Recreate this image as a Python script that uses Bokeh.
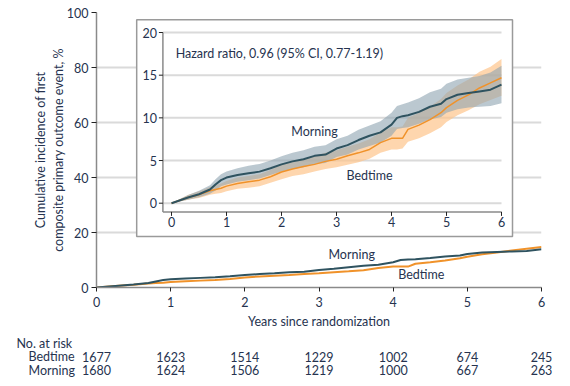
from bokeh.plotting import figure
from bokeh.models import Range1d, FixedTicker, ColumnDataSource
from bokeh.layouts import column, row
from bokeh.embed import file_html
from bokeh.resources import INLINE
from bokeh.core.properties import value

FONT = "Lato"
TXT = "#26334f"
MORN_C = "#2f5360"
BED_C = "#f0922a"
MORN_BAND = "#8da3b0"
BED_BAND = "#fdc58c"

# ---------------- data ----------------
years = [0, 0.3, 0.5, 0.7, 0.8, 0.9, 1.0, 1.2, 1.4, 1.6, 1.8, 2.0, 2.2, 2.4, 2.6,
         2.8, 3.0, 3.2, 3.4, 3.6, 3.8, 4.0, 4.1, 4.2, 4.3, 4.5, 4.7, 4.9, 5.0,
         5.2, 5.4, 5.6, 5.8, 6.0]
morning = [0, 0.66, 1.05, 1.6, 2.2, 2.7, 3.0, 3.3, 3.5, 3.7, 4.1, 4.55, 4.9, 5.15,
           5.55, 5.7, 6.4, 6.8, 7.4, 7.9, 8.3, 9.2, 10.0, 10.2, 10.3, 10.7, 11.3,
           11.65, 12.2, 12.7, 12.9, 13.1, 13.3, 13.9]
morning_lo = [0, 0.4, 0.7, 1.1, 1.5, 2.0, 2.2, 2.5, 2.7, 2.9, 3.3, 3.7, 4.0, 4.2,
              4.6, 4.7, 5.4, 5.7, 6.3, 6.7, 7.1, 7.9, 8.7, 8.8, 8.9, 9.3, 9.8,
              10.1, 10.6, 11.0, 11.2, 11.3, 11.4, 11.7]
morning_hi = [0, 0.95, 1.45, 2.1, 2.8, 3.4, 3.7, 4.1, 4.4, 4.6, 5.0, 5.5, 5.9, 6.2,
              6.6, 6.8, 7.5, 7.9, 8.6, 9.1, 9.6, 10.6, 11.4, 11.6, 11.8, 12.3, 13.0,
              13.4, 14.0, 14.5, 14.7, 14.9, 15.3, 16.1]
bedtime = [0, 0.66, 1.0, 1.45, 1.6, 1.75, 2.0, 2.3, 2.5, 2.7, 3.1, 3.65, 4.0, 4.3,
           4.55, 4.9, 5.15, 5.55, 5.9, 6.3, 7.1, 7.6, 7.6, 7.6, 8.65, 9.15, 9.8,
           10.6, 11.2, 12.05, 12.7, 13.5, 14.1, 14.7]
bedtime_lo = [0, 0.4, 0.6, 1.0, 1.1, 1.2, 1.4, 1.7, 1.8, 2.0, 2.4, 2.8, 3.2, 3.4,
              3.7, 4.0, 4.2, 4.5, 4.8, 5.2, 5.9, 6.3, 6.3, 6.4, 7.2, 7.6, 8.2,
              8.9, 9.5, 10.3, 10.9, 11.6, 12.1, 12.6]
bedtime_hi = [0, 0.95, 1.4, 1.9, 2.1, 2.3, 2.6, 3.0, 3.2, 3.4, 3.9, 4.5, 4.9, 5.2,
              5.5, 5.9, 6.2, 6.6, 7.0, 7.5, 8.3, 8.9, 8.9, 9.0, 10.0, 10.6, 11.3,
              12.2, 12.9, 13.8, 14.5, 15.4, 16.0, 16.9]

main_yticks = [0, 20, 40, 60, 80, 100]
xticks = [0, 1, 2, 3, 4, 5, 6]
inset_yticks = [0, 5, 10, 15, 20]

risk_groups = ["Bedtime", "Morning"]
risk_bedtime = [1677, 1623, 1514, 1229, 1002, 674, 245]
risk_morning = [1680, 1624, 1506, 1219, 1000, 667, 263]

hr_text = "Hazard ratio, 0.96 (95% CI, 0.77-1.19)"

# ---------------- layout constants (pixels) ----------------
FW, FH = 445, 275
BL, BR, BT = 96, 20, 12
IN_X0 = 75.0       # inset x=0, px right of main frame left
IN_PX_X = 55.0     # px per inset x unit
IN_Y0 = 84.3       # inset y=0, px above main frame bottom
IN_PX_Y = 8.535    # px per inset y unit
FS = "12.5px"

p = figure(frame_width=FW, frame_height=FH, min_border_left=BL, min_border_right=BR,
           min_border_top=BT, min_border_bottom=0,
           x_range=Range1d(0, 6), y_range=Range1d(0, 100),
           toolbar_location=None, output_backend="svg")
p.outline_line_color = None
p.background_fill_color = "white"
p.xgrid.grid_line_color = None
p.ygrid.grid_line_color = "#dadada"
p.ygrid.grid_line_width = 2
p.xaxis.ticker = FixedTicker(ticks=xticks)
p.yaxis.ticker = FixedTicker(ticks=main_yticks)
for ax in (p.xaxis[0], p.yaxis[0]):
    ax.axis_line_color = "#8a8a8a"
    ax.axis_line_width = 1.5
    ax.major_tick_line_color = "#222222"
    ax.major_tick_in = 0
    ax.minor_tick_line_color = None
    ax.major_label_text_font = FONT
    ax.major_label_text_font_size = FS
    ax.major_label_text_color = TXT
    ax.axis_label_text_font = FONT
    ax.axis_label_text_font_size = FS
    ax.axis_label_text_font_style = "normal"
    ax.axis_label_text_color = TXT
p.xaxis.major_tick_out = 4
p.yaxis.major_tick_out = 5
p.xaxis.major_label_standoff = 5
p.yaxis.major_label_standoff = 3
p.xaxis.axis_label = "Years since randomization"
p.xaxis.axis_label_standoff = 4
p.yaxis.axis_label = "Cumulative incidence of first\ncomposite primary outcome event, %"
p.yaxis.axis_label_standoff = -2

# main curves
p.line(years, bedtime, line_color=BED_C, line_width=2)
p.line(years, morning, line_color=MORN_C, line_width=2)
p.text(x=[3.44], y=[12.1], text=["Morning"], text_font=value(FONT), text_font_size=FS,
       text_color=TXT, text_align="center", text_baseline="middle")
p.text(x=[4.38], y=[4.6], text=["Bedtime"], text_font=value(FONT), text_font_size=FS,
       text_color=TXT, text_align="center", text_baseline="middle")

# ---------------- inset ----------------
p.extra_x_ranges = {"ix": Range1d(-IN_X0 / IN_PX_X, (FW - IN_X0) / IN_PX_X)}
p.extra_y_ranges = {"iy": Range1d(-IN_Y0 / IN_PX_Y, (FH - IN_Y0) / IN_PX_Y)}
kw = dict(x_range_name="ix", y_range_name="iy")

ax_x = -8.6 / IN_PX_X     # inset y-axis position
ax_y = -8.7 / IN_PX_Y     # inset x-axis position

p.quad(left=[-0.633], right=[6.2], bottom=[-3.9], top=[21.48],
       fill_color="white", line_color="#9a9a9a", line_width=1.5, **kw)
# inset gridlines
p.segment(x0=[ax_x] * len(inset_yticks), x1=[6] * len(inset_yticks), y0=inset_yticks,
          y1=inset_yticks, line_color="#dadada", line_width=2, **kw)
# bands
p.varea(x=years, y1=bedtime_lo, y2=bedtime_hi, fill_color=BED_BAND, fill_alpha=0.7, **kw)
p.varea(x=years, y1=morning_lo, y2=morning_hi, fill_color=MORN_BAND, fill_alpha=0.6, **kw)
p.line(years, bedtime, line_color=BED_C, line_width=1.5, **kw)
p.line(years, morning, line_color=MORN_C, line_width=2, **kw)
# inset axes
p.segment(x0=[ax_x, ax_x], x1=[ax_x, 6], y0=[ax_y, ax_y], y1=[20, ax_y],
          line_color="#8a8a8a", line_width=1.5, **kw)
p.segment(x0=[ax_x] * len(inset_yticks), x1=[ax_x - 4 / IN_PX_X] * len(inset_yticks),
          y0=inset_yticks, y1=inset_yticks, line_color="#222222", line_width=1, **kw)
p.segment(x0=xticks, x1=xticks, y0=[ax_y] * len(xticks),
          y1=[ax_y - 4 / IN_PX_Y] * len(xticks), line_color="#222222", line_width=1, **kw)
p.text(x=[ax_x] * len(inset_yticks), y=inset_yticks, text=[str(v) for v in inset_yticks],
       x_offset=-6, text_align="right", text_baseline="middle", text_font=value(FONT),
       text_font_size=FS, text_color=TXT, **kw)
p.text(x=xticks, y=[ax_y] * len(xticks), text=[str(v) for v in xticks], y_offset=5,
       text_align="center", text_baseline="top", text_font=value(FONT),
       text_font_size=FS, text_color=TXT, **kw)
p.text(x=[0.075], y=[17.54], text=[hr_text], text_align="left", text_baseline="middle",
       text_font=value(FONT), text_font_size=FS, text_color=TXT, **kw)
p.text(x=[2.6], y=[8.37], text=["Morning"], text_align="center", text_baseline="middle",
       text_font=value(FONT), text_font_size=FS, text_color=TXT, **kw)
p.text(x=[3.6], y=[3.2], text=["Bedtime"], text_align="center", text_baseline="middle",
       text_font=value(FONT), text_font_size=FS, text_color=TXT, **kw)

# ---------------- number at risk table (full-width frame) ----------------
TW = BL + FW + BR
TH = 49
px_per_x = FW / 6.0
t = figure(frame_width=TW, frame_height=TH, min_border=0, min_border_left=0,
           min_border_right=0, min_border_top=0, min_border_bottom=0,
           toolbar_location=None, output_backend="svg",
           x_range=Range1d(-BL / px_per_x, (TW - BL) / px_per_x),
           y_range=Range1d(2 + 11 / 14, -13 / 14),
           x_axis_location=None, y_axis_location=None)
t.outline_line_color = None
t.xgrid.grid_line_color = None
t.ygrid.grid_line_color = None
tk = dict(text_font=value(FONT), text_font_size=FS, text_color=TXT, text_baseline="middle")
t.text(x=[-80 / px_per_x], y=[0], text=["No. at risk"], text_align="left", **tk)
t.text(x=[-68 / px_per_x] * 2, y=[1, 2], text=risk_groups, text_align="left", **tk)
num_src = ColumnDataSource(dict(
    x=xticks + xticks,
    y=[1] * len(xticks) + [2] * len(xticks),
    text=[str(v) for v in risk_bedtime] + [str(v) for v in risk_morning]))
t.text(x="x", y="y", text="text", source=num_src, text_align="center", **tk)

layout = column(p, row(t), spacing=0)
open("out.html", "w").write(file_html(layout, INLINE))
